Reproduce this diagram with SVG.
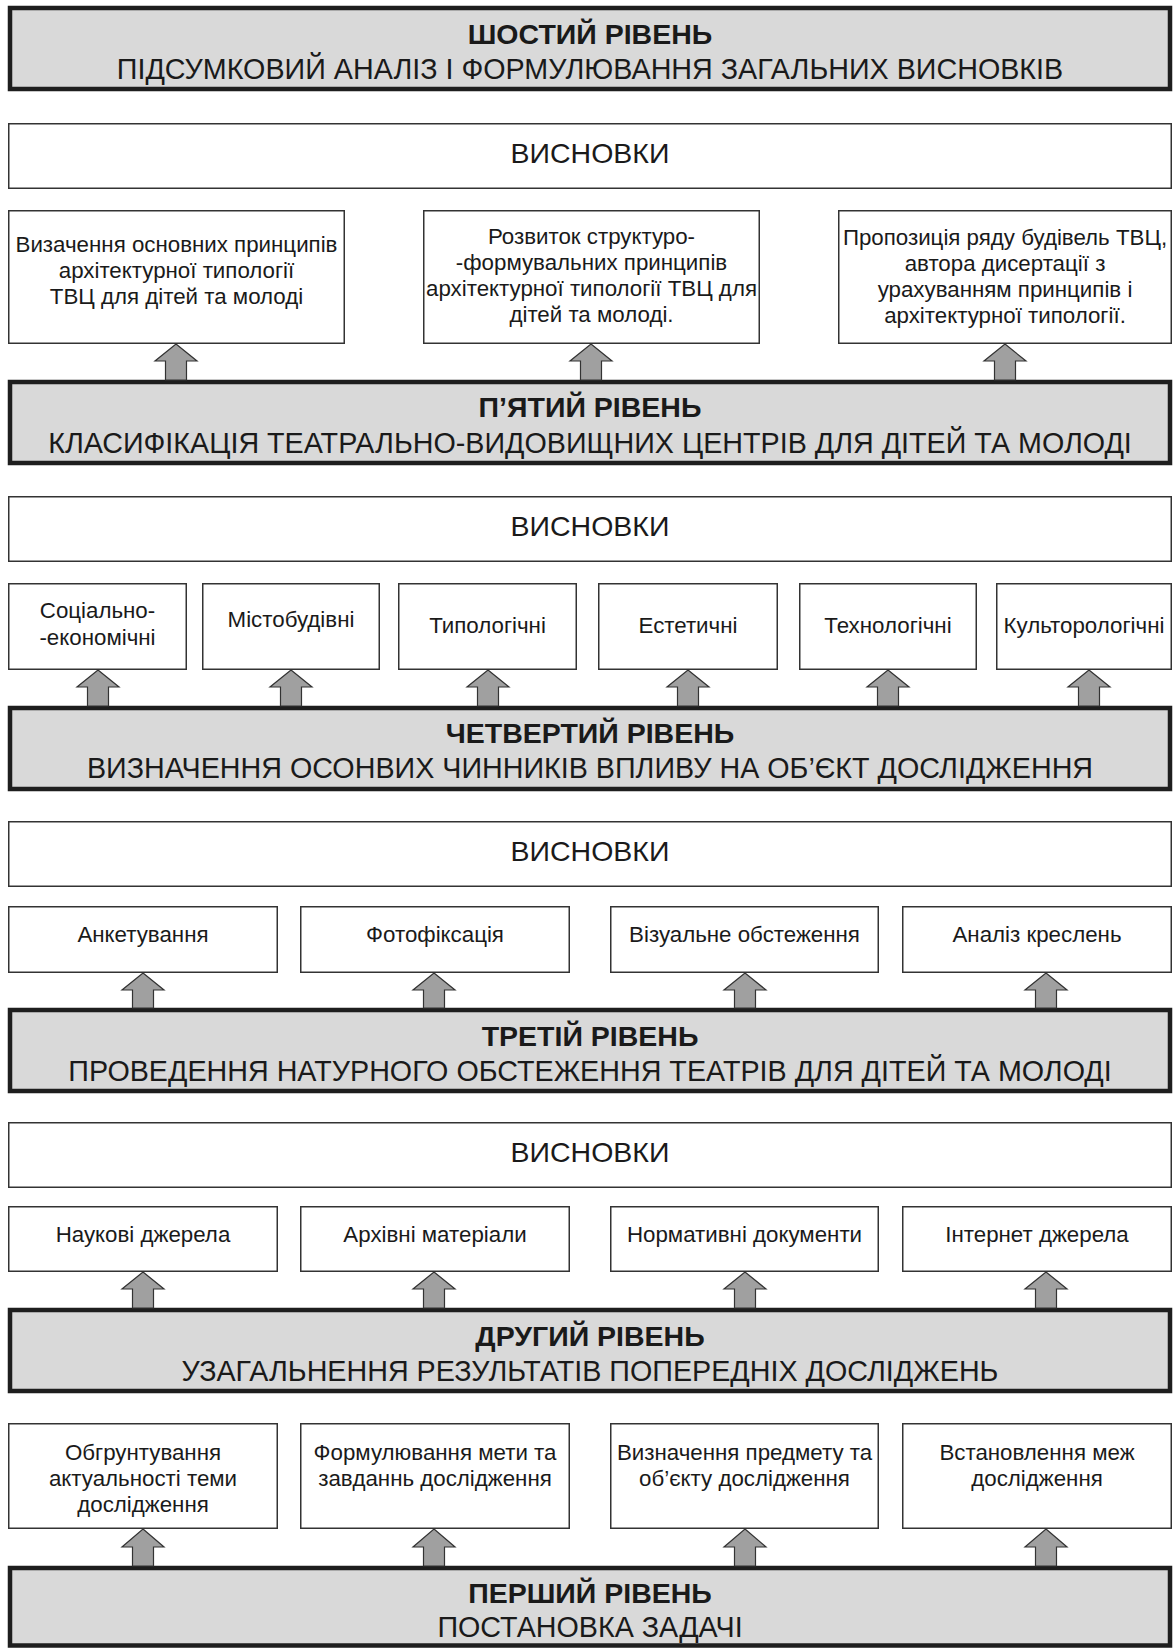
<svg xmlns="http://www.w3.org/2000/svg" width="1175" height="1648" viewBox="0 0 1175 1648">
<style>
text{font-family:"Liberation Sans",Arial,sans-serif;fill:#1a1a1a;text-anchor:middle}
.lvl{fill:#d9d9d9;stroke:#1e1e1e;stroke-width:4.5}
.box{fill:#fff;stroke:#333;stroke-width:1.5}
.t{font-size:28.5px;font-weight:bold}
.s{font-size:28.7px}
.v{font-size:28.5px}
.n{font-size:22.3px}
.arr{fill:#a0a0a0;stroke:#333;stroke-width:1.2;stroke-linejoin:miter}
</style>
<rect width="1175" height="1648" fill="#fff"/>

<g id="level6"><rect class="lvl" x="10" y="8" width="1160" height="81"/><text class="t" x="590" y="44">ШОСТИЙ РІВЕНЬ</text><text class="s" x="590" y="79">ПІДСУМКОВИЙ АНАЛІЗ І ФОРМУЛЮВАННЯ ЗАГАЛЬНИХ ВИСНОВКІВ</text></g>
<g id="conc5"><rect class="box" x="8.75" y="123.75" width="1162.5" height="64.5"/><text class="v" x="590" y="163">ВИСНОВКИ</text></g>
<g id="r5a"><rect class="box" x="8.75" y="210.75" width="335.5" height="132.5"/><text class="n" x="176.5" y="252">Визачення основних принципів</text><text class="n" x="176.5" y="278">архітектурної типології</text><text class="n" x="176.5" y="304">ТВЦ для дітей та молоді</text></g>
<g id="r5b"><rect class="box" x="423.75" y="210.75" width="335.5" height="132.5"/><text class="n" x="591.5" y="244">Розвиток структуро-</text><text class="n" x="591.5" y="270">-формувальних принципів</text><text class="n" x="591.5" y="296">архітектурної типології ТВЦ для</text><text class="n" x="591.5" y="322">дітей та молоді.</text></g>
<g id="r5c"><rect class="box" x="838.75" y="210.75" width="332.5" height="132.5"/><text class="n" x="1005" y="245">Пропозиція ряду будівель ТВЦ,</text><text class="n" x="1005" y="271">автора дисертації з</text><text class="n" x="1005" y="297">урахуванням принципів і</text><text class="n" x="1005" y="323">архітектурної типології.</text></g>

<g id="level5"><rect class="lvl" x="10" y="382" width="1160" height="81"/><text class="t" x="590" y="417">П’ЯТИЙ РІВЕНЬ</text><text class="s" x="590" y="453">КЛАСИФІКАЦІЯ ТЕАТРАЛЬНО-ВИДОВИЩНИХ ЦЕНТРІВ ДЛЯ ДІТЕЙ ТА МОЛОДІ</text></g>
<g id="conc4"><rect class="box" x="8.75" y="496.75" width="1162.5" height="64.5"/><text class="v" x="590" y="536">ВИСНОВКИ</text></g>
<g id="r4a"><rect class="box" x="8.75" y="583.75" width="177.5" height="85.5"/><text class="n" x="97.5" y="618">Соціально-</text><text class="n" x="97.5" y="645">-економічні</text></g>
<g id="r4b"><rect class="box" x="202.75" y="583.75" width="176.5" height="85.5"/><text class="n" x="291" y="627">Містобудівні</text></g>
<g id="r4c"><rect class="box" x="398.75" y="583.75" width="177.5" height="85.5"/><text class="n" x="487.5" y="633">Типологічні</text></g>
<g id="r4d"><rect class="box" x="598.75" y="583.75" width="178.5" height="85.5"/><text class="n" x="688" y="633">Естетичні</text></g>
<g id="r4e"><rect class="box" x="799.75" y="583.75" width="176.5" height="85.5"/><text class="n" x="888" y="633">Технологічні</text></g>
<g id="r4f"><rect class="box" x="996.75" y="583.75" width="174.5" height="85.5"/><text class="n" x="1084" y="633">Культорологічні</text></g>

<g id="level4"><rect class="lvl" x="10" y="708" width="1160" height="81"/><text class="t" x="590" y="743">ЧЕТВЕРТИЙ РІВЕНЬ</text><text class="s" x="590" y="778">ВИЗНАЧЕННЯ ОСОНВИХ ЧИННИКІВ ВПЛИВУ НА ОБ’ЄКТ ДОСЛІДЖЕННЯ</text></g>
<g id="conc3"><rect class="box" x="8.75" y="821.75" width="1162.5" height="64.5"/><text class="v" x="590" y="861">ВИСНОВКИ</text></g>
<g id="r3a"><rect class="box" x="8.75" y="906.75" width="268.5" height="65.5"/><text class="n" x="143" y="942">Анкетування</text></g>
<g id="r3b"><rect class="box" x="300.75" y="906.75" width="268.5" height="65.5"/><text class="n" x="435" y="942">Фотофіксація</text></g>
<g id="r3c"><rect class="box" x="610.75" y="906.75" width="267.5" height="65.5"/><text class="n" x="744.5" y="942">Візуальне обстеження</text></g>
<g id="r3d"><rect class="box" x="902.75" y="906.75" width="268.5" height="65.5"/><text class="n" x="1037" y="942">Аналіз креслень</text></g>

<g id="level3"><rect class="lvl" x="10" y="1010" width="1160" height="81"/><text class="t" x="590" y="1046">ТРЕТІЙ РІВЕНЬ</text><text class="s" x="590" y="1081">ПРОВЕДЕННЯ НАТУРНОГО ОБСТЕЖЕННЯ ТЕАТРІВ ДЛЯ ДІТЕЙ ТА МОЛОДІ</text></g>
<g id="conc2"><rect class="box" x="8.75" y="1122.75" width="1162.5" height="64.5"/><text class="v" x="590" y="1162">ВИСНОВКИ</text></g>
<g id="r2a"><rect class="box" x="8.75" y="1206.75" width="268.5" height="64.5"/><text class="n" x="143" y="1242">Наукові джерела</text></g>
<g id="r2b"><rect class="box" x="300.75" y="1206.75" width="268.5" height="64.5"/><text class="n" x="435" y="1242">Архівні матеріали</text></g>
<g id="r2c"><rect class="box" x="610.75" y="1206.75" width="267.5" height="64.5"/><text class="n" x="744.5" y="1242">Нормативні документи</text></g>
<g id="r2d"><rect class="box" x="902.75" y="1206.75" width="268.5" height="64.5"/><text class="n" x="1037" y="1242">Інтернет джерела</text></g>

<g id="level2"><rect class="lvl" x="10" y="1310" width="1160" height="81"/><text class="t" x="590" y="1346">ДРУГИЙ РІВЕНЬ</text><text class="s" x="590" y="1381">УЗАГАЛЬНЕННЯ РЕЗУЛЬТАТІВ ПОПЕРЕДНІХ ДОСЛІДЖЕНЬ</text></g>
<g id="r1a"><rect class="box" x="8.75" y="1423.75" width="268.5" height="104.5"/><text class="n" x="143" y="1460">Обгрунтування</text><text class="n" x="143" y="1486">актуальності теми</text><text class="n" x="143" y="1512">дослідження</text></g>
<g id="r1b"><rect class="box" x="300.75" y="1423.75" width="268.5" height="104.5"/><text class="n" x="435" y="1460">Формулювання мети та</text><text class="n" x="435" y="1486">завданнь дослідження</text></g>
<g id="r1c"><rect class="box" x="610.75" y="1423.75" width="267.5" height="104.5"/><text class="n" x="744.5" y="1460">Визначення предмету та</text><text class="n" x="744.5" y="1486">об’єкту дослідження</text></g>
<g id="r1d"><rect class="box" x="902.75" y="1423.75" width="268.5" height="104.5"/><text class="n" x="1037" y="1460">Встановлення меж</text><text class="n" x="1037" y="1486">дослідження</text></g>

<g id="level1"><rect class="lvl" x="10" y="1568" width="1160" height="77.5"/><text class="t" x="590" y="1603">ПЕРШИЙ РІВЕНЬ</text><text class="s" x="590" y="1637">ПОСТАНОВКА ЗАДАЧІ</text></g>

<g id="connectors">
<path class="arr" d="M176,344 L197,361 L186.5,361 L186.5,380 L165.5,380 L165.5,361 L155,361 Z"/>
<path class="arr" d="M591,344 L612,361 L601.5,361 L601.5,380 L580.5,380 L580.5,361 L570,361 Z"/>
<path class="arr" d="M1005,344 L1026,361 L1015.5,361 L1015.5,380 L994.5,380 L994.5,361 L984,361 Z"/>

<path class="arr" d="M98,670 L119,687 L108.5,687 L108.5,706 L87.5,706 L87.5,687 L77,687 Z"/>
<path class="arr" d="M291,670 L312,687 L301.5,687 L301.5,706 L280.5,706 L280.5,687 L270,687 Z"/>
<path class="arr" d="M488,670 L509,687 L498.5,687 L498.5,706 L477.5,706 L477.5,687 L467,687 Z"/>
<path class="arr" d="M688,670 L709,687 L698.5,687 L698.5,706 L677.5,706 L677.5,687 L667,687 Z"/>
<path class="arr" d="M888,670 L909,687 L898.5,687 L898.5,706 L877.5,706 L877.5,687 L867,687 Z"/>
<path class="arr" d="M1089,670 L1110,687 L1099.5,687 L1099.5,706 L1078.5,706 L1078.5,687 L1068,687 Z"/>

<path class="arr" d="M143,973 L164,990 L153.5,990 L153.5,1008 L132.5,1008 L132.5,990 L122,990 Z"/>
<path class="arr" d="M434,973 L455,990 L444.5,990 L444.5,1008 L423.5,1008 L423.5,990 L413,990 Z"/>
<path class="arr" d="M745,973 L766,990 L755.5,990 L755.5,1008 L734.5,1008 L734.5,990 L724,990 Z"/>
<path class="arr" d="M1046,973 L1067,990 L1056.5,990 L1056.5,1008 L1035.5,1008 L1035.5,990 L1025,990 Z"/>

<path class="arr" d="M143,1272 L164,1289 L153.5,1289 L153.5,1308 L132.5,1308 L132.5,1289 L122,1289 Z"/>
<path class="arr" d="M434,1272 L455,1289 L444.5,1289 L444.5,1308 L423.5,1308 L423.5,1289 L413,1289 Z"/>
<path class="arr" d="M745,1272 L766,1289 L755.5,1289 L755.5,1308 L734.5,1308 L734.5,1289 L724,1289 Z"/>
<path class="arr" d="M1046,1272 L1067,1289 L1056.5,1289 L1056.5,1308 L1035.5,1308 L1035.5,1289 L1025,1289 Z"/>

<path class="arr" d="M143,1529 L164,1547 L153.5,1547 L153.5,1566 L132.5,1566 L132.5,1547 L122,1547 Z"/>
<path class="arr" d="M434,1529 L455,1547 L444.5,1547 L444.5,1566 L423.5,1566 L423.5,1547 L413,1547 Z"/>
<path class="arr" d="M745,1529 L766,1547 L755.5,1547 L755.5,1566 L734.5,1566 L734.5,1547 L724,1547 Z"/>
<path class="arr" d="M1046,1529 L1067,1547 L1056.5,1547 L1056.5,1566 L1035.5,1566 L1035.5,1547 L1025,1547 Z"/>
</g>
</svg>
